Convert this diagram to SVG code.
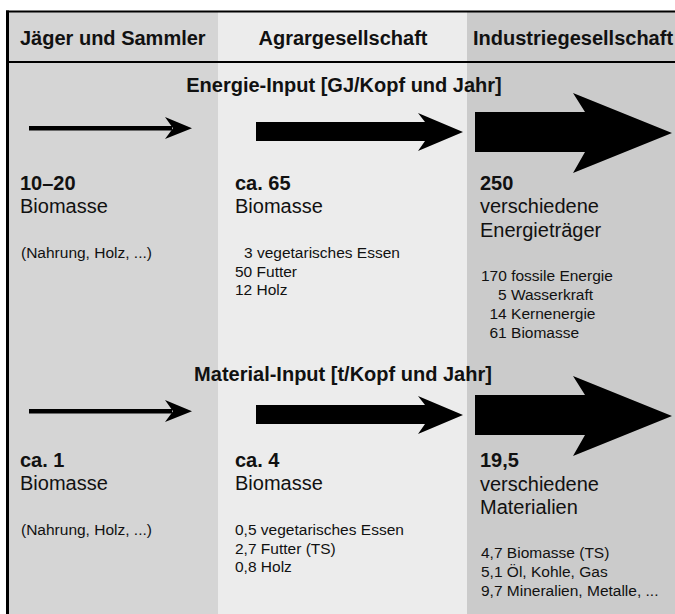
<svg xmlns="http://www.w3.org/2000/svg" width="675" height="614" viewBox="0 0 675 614">
<style>
text{font-family:"Liberation Sans",Arial,Helvetica,sans-serif;fill:#111}
.h{font-size:20px;font-weight:bold}
.t{font-size:20px;font-weight:bold;text-anchor:middle}
.v{font-size:20px;font-weight:bold}
.n{font-size:20px}
.s{font-size:15.5px}
.ar{fill:#000}
.ln{stroke:#000;fill:none}
</style>
<rect width="675" height="614" fill="#fff"/>
<g id="columns">
<rect x="7" y="11" width="211" height="603" fill="#d5d5d5"/>
<rect x="218" y="11" width="249" height="603" fill="#ececec"/>
<rect x="467" y="11" width="208" height="603" fill="#cbcbcb"/>
</g>
<g id="frame">
<line class="ln" x1="6" y1="11.5" x2="675" y2="11.5" stroke-width="2"/>
<line class="ln" x1="7.5" y1="10.5" x2="7.5" y2="614" stroke-width="3"/>
<line class="ln" x1="6" y1="62" x2="675" y2="62" stroke-width="2"/>
</g>
<g id="headers">
<text class="h" x="20" y="45">Jäger und Sammler</text>
<text class="h" x="343" y="45" text-anchor="middle">Agrargesellschaft</text>
<text class="h" x="473" y="45">Industriegesellschaft</text>
</g>
<g id="titles">
<text class="t" x="344" y="92">Energie-Input [GJ/Kopf und Jahr]</text>
<text class="t" x="343" y="381">Material-Input [t/Kopf und Jahr]</text>
</g>
<g id="arrows">
<g id="energy-arrows">
<rect class="ar" x="29" y="126" width="143" height="4.5"/>
<polygon class="ar" points="165,117 192,128.2 165,139 173,128.2"/>
<polygon class="ar" points="256,122 425,122 418,113 463,132 418,151 425,141 256,141"/>
<polygon class="ar" points="475,112 585,112 573,93 672,133 573,173 585,152 475,152"/>
</g>
<g id="material-arrows" transform="translate(0,283)">
<rect class="ar" x="29" y="126" width="143" height="4.5"/>
<polygon class="ar" points="165,117 192,128.2 165,139 173,128.2"/>
<polygon class="ar" points="256,122 425,122 418,113 463,132 418,151 425,141 256,141"/>
<polygon class="ar" points="475,112 585,112 573,93 672,133 573,173 585,152 475,152"/>
</g>
</g>
<g id="energy-hunter">
<text class="v" x="20" y="190">10–20</text>
<text class="n" x="20" y="213">Biomasse</text>
<text class="s" x="21" y="258">(Nahrung, Holz, ...)</text>
</g>
<g id="energy-agrar">
<text class="v" x="235" y="190">ca. 65</text>
<text class="n" x="235" y="213">Biomasse</text>
<text class="s" x="244" y="258">3 vegetarisches Essen</text>
<text class="s" x="235" y="276.5">50 Futter</text>
<text class="s" x="235" y="295">12 Holz</text>
</g>
<g id="energy-industrie">
<text class="v" x="480" y="190">250</text>
<text class="n" x="480" y="213">verschiedene</text>
<text class="n" x="480" y="237">Energieträger</text>
<text class="s" x="481" y="281">170 fossile Energie</text>
<text class="s" x="498" y="300">5 Wasserkraft</text>
<text class="s" x="489.5" y="319">14 Kernenergie</text>
<text class="s" x="489.5" y="338">61 Biomasse</text>
</g>
<g id="material-hunter">
<text class="v" x="20" y="467">ca. 1</text>
<text class="n" x="20" y="490">Biomasse</text>
<text class="s" x="21" y="535">(Nahrung, Holz, ...)</text>
</g>
<g id="material-agrar">
<text class="v" x="235" y="467">ca. 4</text>
<text class="n" x="235" y="490">Biomasse</text>
<text class="s" x="235" y="535">0,5 vegetarisches Essen</text>
<text class="s" x="235" y="553.5">2,7 Futter (TS)</text>
<text class="s" x="235" y="572">0,8 Holz</text>
</g>
<g id="material-industrie">
<text class="v" x="480" y="467">19,5</text>
<text class="n" x="480" y="491">verschiedene</text>
<text class="n" x="480" y="514">Materialien</text>
<text class="s" x="481" y="558">4,7 Biomasse (TS)</text>
<text class="s" x="481" y="577">5,1 Öl, Kohle, Gas</text>
<text class="s" x="481" y="596">9,7 Mineralien, Metalle, ...</text>
</g>
</svg>
